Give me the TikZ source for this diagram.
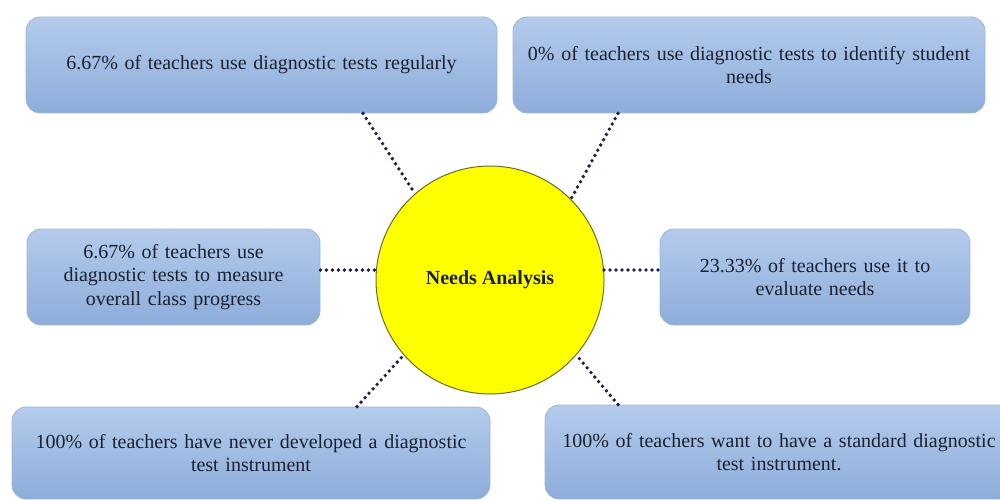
\documentclass[tikz,border=0pt]{standalone}
\usepackage{fontspec}
\setmainfont{Liberation Serif}
\usetikzlibrary{calc}
\definecolor{boxtop}{HTML}{B4CBEC}
\definecolor{boxbot}{HTML}{8DADDA}
\definecolor{boxline}{HTML}{A3B6CE}
\definecolor{txt}{HTML}{1B2130}
\definecolor{dotc}{HTML}{1E1E50}
\definecolor{circline}{HTML}{6B6B30}
\definecolor{hubfill}{HTML}{FFFF00}
\tikzset{
  infobox/.style={rectangle, rounded corners=14pt, draw=boxline, line width=0.8pt,
    top color=boxtop, bottom color=boxbot, text=txt, align=center,
    font=\fontsize{20}{23.5}\selectfont, inner sep=0pt},
  hub/.style={circle, fill=hubfill, draw=circline, line width=1pt, minimum size=228pt,
    text=txt, font=\fontsize{20}{23.5}\selectfont\bfseries},
  conn/.style={dotc, line width=3.8pt, line cap=round, dash pattern=on 0pt off 6pt}
}
\begin{document}
\begin{tikzpicture}[x=1pt,y=-1pt]
\useasboundingbox (0,0) rectangle (1000,500);
\node[infobox, minimum width=471pt, minimum height=96pt, text width=460pt] (b1) at (261.5,65)
  {6.67\% of teachers use diagnostic tests regularly};
\node[infobox, minimum width=472pt, minimum height=96pt, text width=460pt] (b2) at (749,65)
  {0\% of teachers use diagnostic tests to identify student\\ needs};
\node[infobox, minimum width=293pt, minimum height=96pt, text width=270pt] (b3) at (173.5,277)
  {6.67\% of teachers use\\ diagnostic tests to measure\\ overall class progress};
\node[infobox, minimum width=310pt, minimum height=96pt, text width=290pt] (b4) at (815,277)
  {23.33\% of teachers use it to\\ evaluate needs};
\node[infobox, minimum width=478pt, minimum height=92pt, text width=460pt] (b5) at (251,453)
  {100\% of teachers have never developed a diagnostic\\ test instrument};
\node[infobox, minimum width=468pt, minimum height=94pt, text width=450pt] (b6) at (779,452)
  {100\% of teachers want to have a standard diagnostic\\ test instrument.};
\node[hub] (c) at (490,280) {Needs Analysis};
\draw[conn] ($(b1.south)+(101.5,0)$) -- (c.131);
\draw[conn] ($(b2.south)+(-131,0)$) -- (c.45);
\draw[conn] (b3.east |- c.175) -- (c.175);
\draw[conn] (c.5) -- (b4.west |- c.5);
\draw[conn] ($(b5.north)+(106,0)$) -- (c.221);
\draw[conn] ($(b6.north)+(-161,0)$) -- (c.319);
\end{tikzpicture}
\end{document}
